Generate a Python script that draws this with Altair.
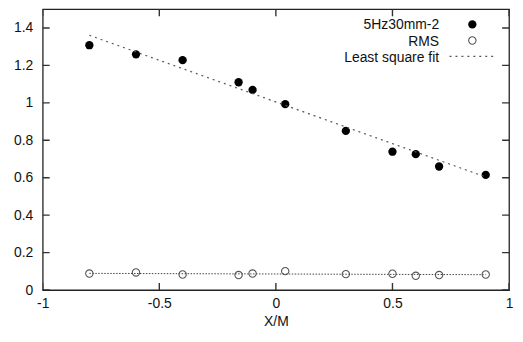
import altair as alt
import pandas as pd

# ---- data ----
x_pos = [-0.8, -0.6, -0.4, -0.16, -0.1, 0.04, 0.3, 0.5, 0.6, 0.7, 0.9]
mean_vals = [1.308, 1.259, 1.228, 1.110, 1.069, 0.993, 0.850, 0.739, 0.726, 0.660, 0.615]
rms_vals = [0.088, 0.094, 0.083, 0.080, 0.088, 0.101, 0.085, 0.087, 0.076, 0.080, 0.083]
fit_x = [-0.8, 0.9]
fit_mean = [1.361, 0.604]
fit_rms = [0.089, 0.082]
x_ticks = [-1, -0.5, 0, 0.5, 1]
y_ticks = [0, 0.2, 0.4, 0.6, 0.8, 1.0, 1.2, 1.4]
x_range = [-1, 1]
y_range = [0, 1.5]
legend_labels = ["5Hz30mm-2", "RMS", "Least square fit"]

df = pd.DataFrame({"x": x_pos, "mean": mean_vals, "rms": rms_vals})
fit = pd.DataFrame({"x": fit_x, "mean_fit": fit_mean, "rms_fit": fit_rms})
xt = pd.DataFrame({"tx": x_ticks * 2,
                   "ty": [y_range[0]] * len(x_ticks) + [y_range[1]] * len(x_ticks)})
yt = pd.DataFrame({"tx": [x_range[0]] * len(y_ticks) + [x_range[1]] * len(y_ticks),
                   "ty": y_ticks * 2})
one = pd.DataFrame({"a": [0]})

W, H = 470, 283
TL = 7  # inward tick length
FONT = "Liberation Sans"
TICK = "#333333"
xscale = alt.Scale(domain=x_range, nice=False, zero=False)
yscale = alt.Scale(domain=y_range, nice=False, zero=False)

x_axis = alt.Axis(orient="bottom", values=x_ticks, labelExpr="datum.value + ''",
                  ticks=False, tickSize=0, domain=False, grid=False, labelPadding=7,
                  labelFont=FONT, labelFontSize=14, labelColor="#111111",
                  labelFlush=False, labelBound=False,
                  title="X/M", titlePadding=4, titleFont=FONT, titleFontSize=14,
                  titleColor="#111111", titleFontWeight="normal")
y_axis = alt.Axis(orient="left", values=y_ticks, labelExpr="datum.value + ''",
                  ticks=False, tickSize=0, domain=False, grid=False, labelPadding=10,
                  labelFont=FONT, labelFontSize=14, labelColor="#111111", title=None)

pts = alt.Chart(df).mark_circle(size=70, color="black", opacity=1).encode(
    x=alt.X("x:Q", scale=xscale, axis=x_axis),
    y=alt.Y("mean:Q", scale=yscale, axis=y_axis),
)
rms_pts = alt.Chart(df).mark_point(size=55, color="#555555", strokeWidth=1.1, filled=False, opacity=1).encode(
    x=alt.X("x:Q", scale=xscale, axis=None),
    y=alt.Y("rms:Q", scale=yscale, axis=None),
)
fit_line = alt.Chart(fit).mark_line(color="#555555", strokeWidth=1.2, strokeDash=[2, 4]).encode(
    x=alt.X("x:Q", scale=xscale, axis=None),
    y=alt.Y("mean_fit:Q", scale=yscale, axis=None),
)
rms_line = alt.Chart(fit).mark_line(color="#444444", strokeWidth=1, strokeDash=[1.5, 1.5]).encode(
    x=alt.X("x:Q", scale=xscale, axis=None),
    y=alt.Y("rms_fit:Q", scale=yscale, axis=None),
)

# ---- inward ticks: tick marks centred on the frame, outer half clipped ----
xticks_layer = alt.Chart(xt).mark_tick(orient="vertical", size=2 * TL, thickness=1.4,
                                       color=TICK, opacity=1, clip=True).encode(
    x=alt.X("tx:Q", scale=xscale, axis=None), y=alt.Y("ty:Q", scale=yscale, axis=None))
yticks_layer = alt.Chart(yt).mark_tick(orient="horizontal", size=2 * TL, thickness=1.4,
                                       color=TICK, opacity=1, clip=True).encode(
    x=alt.X("tx:Q", scale=xscale, axis=None), y=alt.Y("ty:Q", scale=yscale, axis=None))

# ---- gnuplot-style legend (label left of the sample) ----
TX, SX = 399.5, 433
rows = [20.3, 36.7, 52.7]
leg = []
for lab, yy in zip(legend_labels, rows):
    leg.append(alt.Chart(one).mark_text(align="right", baseline="alphabetic", font=FONT,
                                        fontSize=14, color="#111111").encode(
        x=alt.value(TX), y=alt.value(yy), text=alt.value(lab)))
leg.append(alt.Chart(one).mark_circle(size=70, color="black", opacity=1).encode(
    x=alt.value(SX), y=alt.value(15.3)))
leg.append(alt.Chart(one).mark_point(size=55, color="#555555", strokeWidth=1.1, filled=False, opacity=1).encode(
    x=alt.value(SX), y=alt.value(31.5)))
leg.append(alt.Chart(one).mark_rule(color="#555555", strokeWidth=1.2, strokeDash=[2, 4]).encode(
    x=alt.value(410), x2=alt.value(454), y=alt.value(47.5)))

chart = alt.layer(pts, rms_pts, fit_line, rms_line, xticks_layer, yticks_layer, *leg).resolve_axis(
    x="independent", y="independent"
).properties(
    width=W, height=H,
    autosize=alt.AutoSizeParams(type="none"),
    padding={"left": 35, "top": 0, "right": 6, "bottom": 37},
).configure_view(stroke="#222222", strokeWidth=1.3)

chart.save("out.html", embed_options={"renderer": "svg", "actions": False})
